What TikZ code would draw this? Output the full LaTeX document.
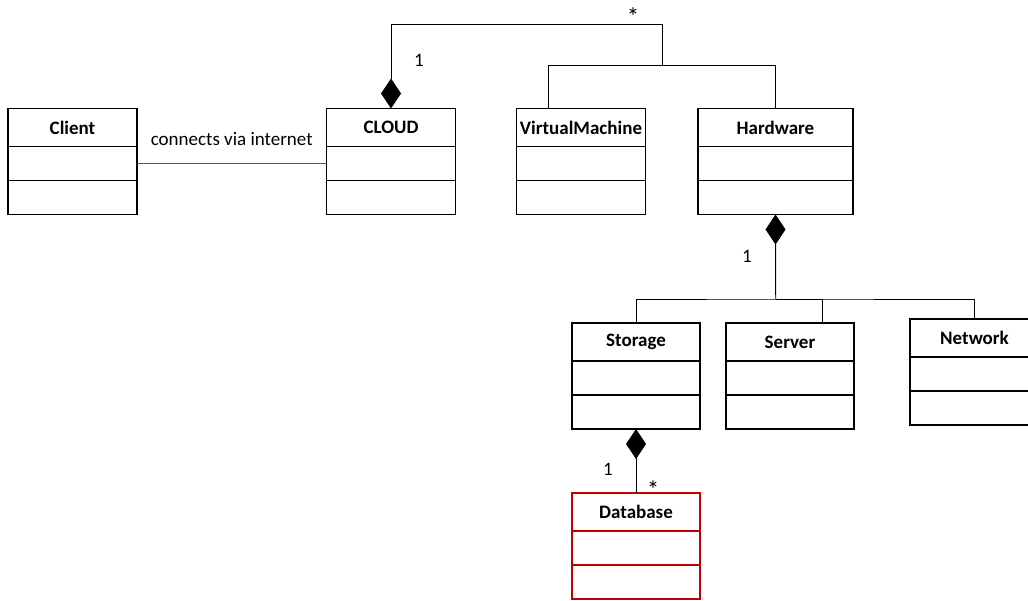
\documentclass[tikz,border=0pt]{standalone}
\usepackage{fontspec}
\setmainfont{Carlito}
\usepackage{tikz}
\usetikzlibrary{
  arrows.meta,
  positioning
}
\definecolor{dbred}{RGB}{192,0,0}
\definecolor{assocgray}{RGB}{90,90,90}
% one UML class: header plus two empty compartments
\newcommand{\umlclass}[4][]{%
  \node[head, #1] (#2) at (#3) {#4};
  \node[part, #1, below=0pt of #2] (#2-attr) {};
  \node[part, #1, below=0pt of #2-attr] (#2-ops) {};
}

\begin{document}
\begin{tikzpicture}[
  x=1pt, y=-1pt,
  font=\fontsize{19}{23}\selectfont,
  head/.style={draw, line width=1.3pt, outer sep=0pt, inner sep=0pt, minimum width=129pt, minimum height=38pt, font=\fontsize{19}{23}\selectfont\bfseries},
  part/.style={draw, line width=1.3pt, outer sep=0pt, inner sep=0pt, minimum width=129pt, minimum height=34pt},
  link/.style={line width=0.9pt},
  comp/.style={link, {Diamond[length=30pt, width=20pt]}-},
  mult/.style={inner sep=0pt},
  star/.style={inner sep=0pt, font=\fontsize{25}{25}\selectfont, text depth=-0.4em}
]
\useasboundingbox (0,0) rectangle (1028,601);

% classes
\umlclass{client}{72.5,127.5}{Client}
\umlclass{cloud}{391,127.5}{CLOUD}
\umlclass{vm}{581,127.5}{VirtualMachine}
\umlclass[minimum width=155pt]{hw}{775.5,127.5}{Hardware}
\umlclass[minimum width=128pt]{storage}{636,342}{Storage}
\umlclass[minimum width=128pt]{server}{790,342}{Server}
\umlclass{network}{974.5,338}{Network}
\umlclass[draw=dbred, minimum width=128pt]{db}{636,512}{Database}

% association
\draw[link, assocgray] (client-attr.east) -- node[above=14pt, black] {connects via internet} (cloud-attr.west);

% CLOUD is made of VMs and hardware
\coordinate (gen) at (662.7,65.7);
\draw[comp] (cloud.north) -- ++(0,-84) -| (gen);
\draw[link] ([xshift=-33pt]vm.north) |- (gen) -| (hw.north);
\node[mult] (m1) at (419,60) {1};
\node[star] (m2) at (633,17) {*};

% hardware parts
\coordinate (hwbus) at (775.7,299);
\draw[comp] (hw-ops.south) -- (hwbus);
\draw[link] (storage.north) |- (hwbus) -| (network.north);
\draw[link] ([xshift=32pt]server.north) |- (hwbus);
\node[mult] (m3) at (747,256) {1};

% storage holds databases
\draw[comp] (storage-ops.south) -- (db.north);
\node[mult] (m4) at (608,469) {1};
\node[star] (m5) at (653,490) {*};
\end{tikzpicture}
\end{document}
